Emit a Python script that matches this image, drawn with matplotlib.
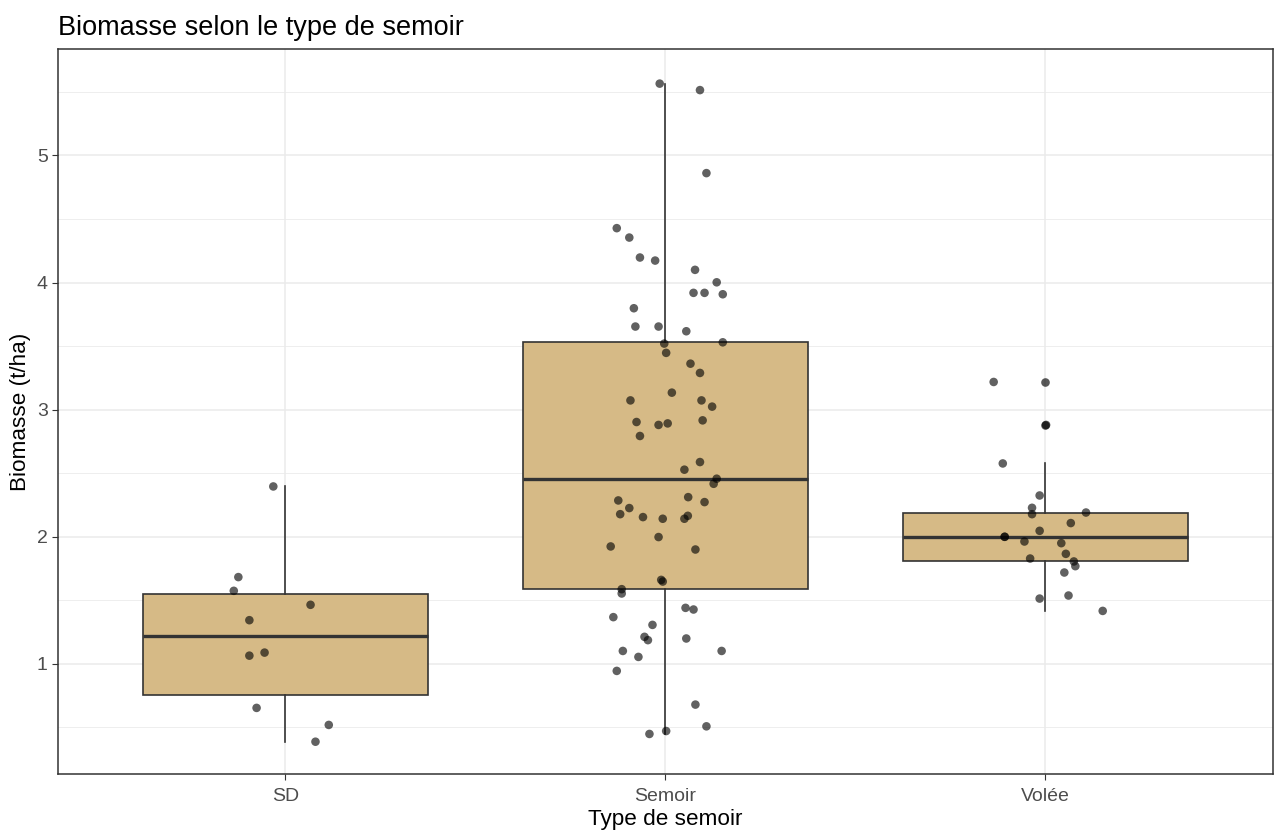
import matplotlib.pyplot as plt
import numpy as np

plt.rcParams['font.family'] = ['Liberation Sans', 'DejaVu Sans']

# groups and their biomass values (t/ha), with the horizontal jitter of each point
categories = ["SD", "Semoir", "Volée"]

sd_values = [2.396, 1.683, 1.575, 1.465, 1.344, 1.089, 1.065, 0.654, 0.520, 0.388]
sd_jitter = [-0.032, -0.124, -0.136, 0.066, -0.095, -0.055, -0.095, -0.076, 0.114, 0.079]

semoir_values = [5.565, 5.514, 4.861, 4.428, 4.354, 4.197, 4.173, 4.100, 4.002, 3.919,
                 3.919, 3.908, 3.798, 3.654, 3.654, 3.617, 3.520, 3.530, 3.447, 3.362,
                 3.289, 3.134, 3.073, 3.073, 3.024, 2.903, 2.880, 2.892, 2.916, 2.793,
                 2.588, 2.528, 2.457, 2.417, 2.286, 2.312, 2.273, 2.226, 2.178, 2.155,
                 2.142, 2.142, 2.165, 1.998, 1.924, 1.900, 1.661, 1.648, 1.588, 1.554,
                 1.441, 1.428, 1.368, 1.307, 1.213, 1.187, 1.200, 1.102, 1.102, 1.055,
                 0.945, 0.680, 0.509, 0.472, 0.449]
semoir_jitter = [-0.015, 0.091, 0.108, -0.128, -0.095, -0.067, -0.027, 0.078, 0.135, 0.074,
                 0.103, 0.151, -0.083, -0.079, -0.018, 0.055, -0.003, 0.151, 0.002, 0.066,
                 0.091, 0.017, -0.092, 0.095, 0.123, -0.076, -0.018, 0.006, 0.098, -0.067,
                 0.091, 0.050, 0.135, 0.127, -0.124, 0.060, 0.103, -0.095, -0.119, -0.059,
                 -0.007, 0.050, 0.059, -0.018, -0.144, 0.079, -0.011, -0.007, -0.115, -0.115,
                 0.053, 0.074, -0.137, -0.034, -0.055, -0.046, 0.055, -0.112, 0.148, -0.071,
                 -0.128, 0.079, 0.108, 0.002, -0.042]

volee_values = [3.218, 2.880, 2.577, 2.325, 2.228, 2.178, 2.191, 2.108, 2.047, 2.000,
                2.000, 1.963, 1.950, 1.866, 1.829, 1.806, 1.769, 1.719, 1.538, 1.514, 1.417]
volee_jitter = [-0.136, 0.002, -0.112, -0.015, -0.035, -0.035, 0.107, 0.067, -0.015, -0.107,
                -0.107, -0.055, 0.042, 0.054, -0.040, 0.075, 0.079, 0.050, 0.061, -0.015, 0.151]

values = [sd_values, semoir_values, volee_values]
jitters = [sd_jitter, semoir_jitter, volee_jitter]
positions = np.arange(1, len(categories) + 1)

fig = plt.figure(figsize=(12.74, 8.31), dpi=100)
ax = fig.add_axes([57.5 / 1274, 1 - 774 / 831, (1273.3 - 57.5) / 1274, (774 - 49.3) / 831])

edge = "#333333"
ax.boxplot(values, positions=positions, widths=0.75, patch_artist=True, whis=1.5,
           boxprops=dict(facecolor="#D6BA86", edgecolor=edge, linewidth=1.2),
           medianprops=dict(color=edge, linewidth=2.4),
           whiskerprops=dict(color=edge, linewidth=1.2),
           capprops=dict(linewidth=0),
           flierprops=dict(marker="o", markerfacecolor=(0, 0, 0, 0.65),
                           markeredgecolor="none", markersize=6.2),
           zorder=2)

for pos, vals, jit in zip(positions, values, jitters):
    ax.scatter(pos + np.array(jit), vals, s=38, color="black", alpha=0.62,
               edgecolors="none", zorder=3)

ax.set_xlim(0.4, 3.6)
ax.set_ylim(0.134, 5.835)
ax.set_xticks(positions)
ax.set_xticklabels(categories)
ax.set_yticks([1, 2, 3, 4, 5])
ax.set_yticks([0.5, 1.5, 2.5, 3.5, 4.5, 5.5], minor=True)
ax.grid(True, which="major", color="#EBEBEB", linewidth=1.1, zorder=0)
ax.grid(True, which="minor", axis="y", color="#EBEBEB", linewidth=0.6, zorder=0)
ax.set_axisbelow(True)
ax.tick_params(axis="both", which="major", length=4, width=0.8, color=edge,
               labelsize=14, labelcolor="#4D4D4D")
ax.tick_params(axis="x", which="major", pad=6)
ax.tick_params(axis="y", which="major", pad=3)
ax.tick_params(axis="both", which="minor", length=0)
for sp in ax.spines.values():
    sp.set_color(edge)
    sp.set_linewidth(1.1)

ax.set_xlabel("Type de semoir", fontsize=16.2, labelpad=3)
ax.set_ylabel("Biomasse (t/ha)", fontsize=16.2, labelpad=4)
ax.set_title("Biomasse selon le type de semoir", fontsize=19.5, loc="left", pad=10)

fig.savefig("out.png", dpi=100)
